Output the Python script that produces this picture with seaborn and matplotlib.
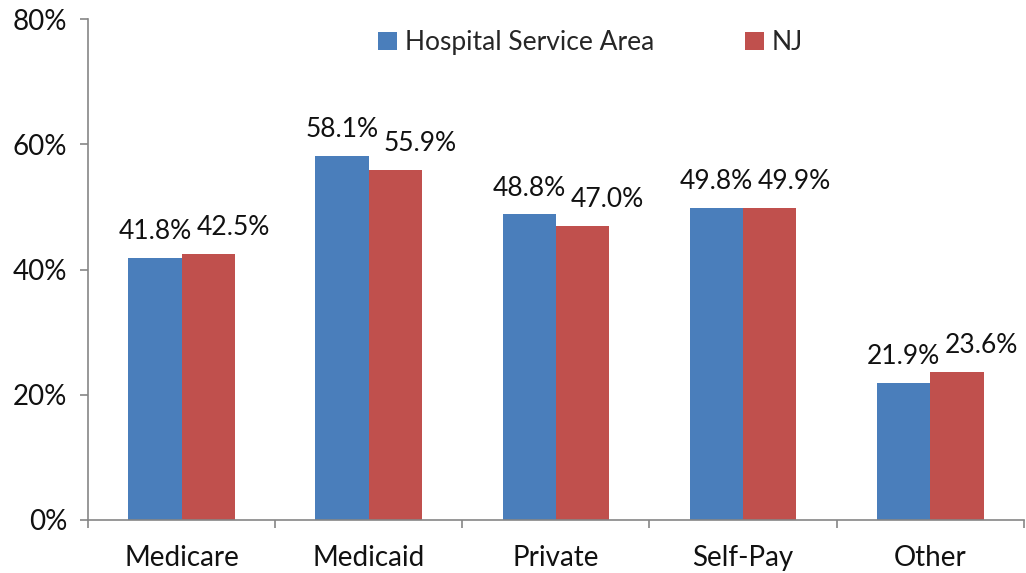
import matplotlib
matplotlib.use("Agg")
import matplotlib.pyplot as plt
from matplotlib.ticker import FuncFormatter, FixedLocator
import seaborn as sns
import pandas as pd
import numpy as np

categories = ["Medicare", "Medicaid", "Private", "Self-Pay", "Other"]
hsa_values = [41.8, 58.1, 48.8, 49.8, 21.9]
nj_values = [42.5, 55.9, 47.0, 49.9, 23.6]
series_names = ["Hospital Service Area", "NJ"]
y_ticks = [0, 20, 40, 60, 80]

df = pd.DataFrame({
    "category": categories * 2,
    "value": hsa_values + nj_values,
    "series": [series_names[0]] * len(categories) + [series_names[1]] * len(categories),
})

sns.set_theme(style="white")
plt.rcParams["font.family"] = ["Lato", "DejaVu Sans"]

fig = plt.figure(figsize=(10.26, 5.73), dpi=100)
ax = fig.add_axes([0.0858, 0.0925, 0.912, 0.8743])

sns.barplot(data=df, x="category", y="value", hue="series",
            palette=["#4A7EBB", "#C0504D"], width=0.57, gap=0,
            saturation=1, linewidth=0, ax=ax, legend=True)

# value labels; the NJ ones sit a bit to the right so they don't collide
label_pad = 10
for i, container in enumerate(ax.containers):
    labels = ax.bar_label(container, fmt="%.1f%%", padding=label_pad,
                          fontsize=19, color="#111111")
    if i == 1:
        for lab in labels:
            lab.xyann = (18, label_pad)

ax.set_ylim(0, 80)
ax.set_xlim(-0.5, len(categories) - 0.5)
ax.set_yticks(y_ticks)
ax.yaxis.set_major_formatter(FuncFormatter(lambda v, p: f"{v:.0f}%"))
ax.set_xlabel("")
ax.set_ylabel("")

# ticks between categories on the x axis
ax.xaxis.set_minor_locator(FixedLocator(np.arange(-0.5, len(categories), 1.0)))
ax.tick_params(axis="x", which="major", length=0, labelsize=20, pad=18, colors="#111111")
ax.tick_params(axis="x", which="minor", length=6, width=1.2, color="#868686", bottom=True)
ax.tick_params(axis="y", length=6, width=1.2, color="#868686", labelsize=20, pad=9,
               labelcolor="#111111", left=True)

sns.despine(ax=ax)
for side in ["left", "bottom"]:
    ax.spines[side].set_color("#868686")
    ax.spines[side].set_linewidth(1.2)

ax.legend(loc="upper center", bbox_to_anchor=(0.537, 1.025), ncol=2, frameon=False,
          fontsize=19, handlelength=0.7, handleheight=0.7, handletextpad=0.3,
          columnspacing=3.45)

fig.savefig("out.png", dpi=100)
